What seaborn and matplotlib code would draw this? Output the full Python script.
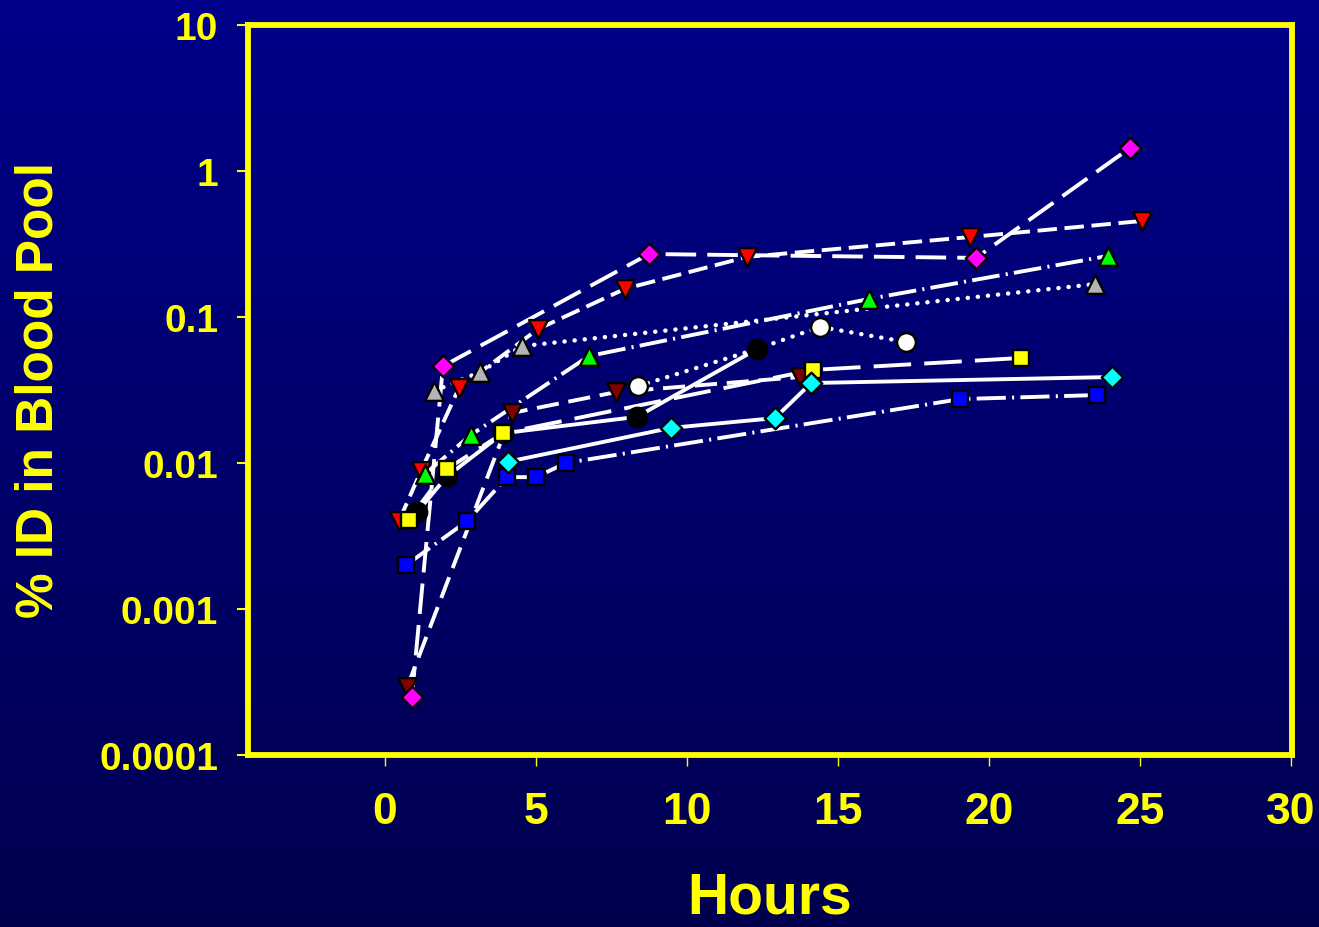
import numpy as np
import pandas as pd
import matplotlib
matplotlib.use("Agg")
import matplotlib.pyplot as plt
import seaborn as sns
from matplotlib.ticker import NullLocator

sns.set_theme(style="white")
plt.rcParams["font.family"] = ["Liberation Sans", "DejaVu Sans"]
plt.rcParams["lines.scale_dashes"] = False

# ---------------- data (hours, % ID in blood pool) ----------------
magenta_x = [0.89, 1.92, 8.74, 19.57, 24.67]
magenta_y = [0.00025, 0.046, 0.27, 0.254, 1.44]

red_x = [0.46, 1.19, 2.45, 5.07, 7.95, 11.99, 19.37, 25.07]
red_y = [0.0040, 0.0088, 0.0327, 0.0828, 0.156, 0.258, 0.353, 0.455]

maroon_x = [0.73, 4.2, 7.65, 13.74]
maroon_y = [0.00029, 0.022, 0.0306, 0.0388]

gray_x = [1.62, 3.15, 4.54, 23.51]
gray_y = [0.0311, 0.042, 0.0632, 0.168]

green_x = [1.32, 2.85, 6.75, 16.03, 23.94]
green_y = [0.0084, 0.0156, 0.054, 0.133, 0.262]

black_x = [1.06, 2.05, 3.91, 8.34, 12.32]
black_y = [0.0046, 0.0081, 0.016, 0.0207, 0.0604]

yellow_x = [0.79, 2.05, 3.91, 14.17, 21.06]
yellow_y = [0.0041, 0.0091, 0.016, 0.0434, 0.0524]

cyan_x = [4.07, 9.47, 12.91, 14.11, 24.07]
cyan_y = [0.0102, 0.0174, 0.0203, 0.0353, 0.0388]

blue_x = [0.70, 2.72, 4.04, 5.0, 5.99, 19.04, 23.58]
blue_y = [0.0020, 0.0040, 0.0080, 0.0080, 0.010, 0.0274, 0.0292]

white_x = [8.38, 12.32, 14.40, 17.25]
white_y = [0.0336, 0.0604, 0.0855, 0.0675]

y_ticks = [0.0001, 0.001, 0.01, 0.1, 1, 10]
y_tick_labels = ["0.0001", "0.001", "0.01", "0.1", "1", "10"]
x_ticks = [0, 5, 10, 15, 20, 25, 30]

# ---------------- series styles ----------------
series = [
    # x, y, marker, face, linestyle, capstyle, size, lw
    (red_x, red_y, "v", "#ff0000", (0, (14, 5.5)), "butt", 13.5, 2.8),
    (maroon_x, maroon_y, "v", "#800000", (0, (16, 7)), "butt", 13.5, 2.8),
    (magenta_x, magenta_y, "D", "#ff00ff", (0, (22, 8)), "butt", 11, 2.8),
    (gray_x, gray_y, "^", "#b4b4b4", (0, (0.1, 7.2)), "round", 13.5, 3.2),
    (green_x, green_y, "^", "#00ff00", (0, (20, 4.5, 1.5, 4.5)), "butt", 13.5, 2.8),
    (white_x, white_y, "o", "#ffffff", (0, (0.1, 7.2)), "round", 13.5, 3.2),
    (black_x, black_y, "o", "#000000", "-", "butt", 14, 2.8),
    (blue_x, blue_y, "s", "#0000ff", (0, (21, 4.5, 1.5, 4.5)), "butt", 12, 2.8),
    (yellow_x, yellow_y, "s", "#ffff00", (0, (27, 9.5)), "butt", 12, 2.8),
    (cyan_x, cyan_y, "D", "#00ffff", "-", "butt", 11, 2.8),
]

W, H = 1319, 928
fig = plt.figure(figsize=(W / 100, H / 100), dpi=100)

# gradient background
bg = fig.add_axes([0, 0, 1, 1], zorder=-5)
grad = np.linspace(0, 1, 256).reshape(-1, 1)
top = np.array([0.0, 0.0, 0.54])
bot = np.array([0.0, 0.0, 0.31])
img = top[None, None, :] * (1 - grad[:, :, None]) + bot[None, None, :] * grad[:, :, None]
bg.imshow(img, aspect="auto", extent=[0, 1, 0, 1])
bg.axis("off")

left, right, topp, bottom = 248, 1292, 26, 756
ax = fig.add_axes([left / W, 1 - bottom / H, (right - left) / W, (bottom - topp) / H])
ax.set_facecolor("none")

# lines
for xs, ys, mk, fc, ls, cap, ms, lw in series:
    df = pd.DataFrame({"x": xs, "y": ys})
    sns.lineplot(data=df, x="x", y="y", ax=ax, sort=False, estimator=None,
                 color="white", linewidth=lw, linestyle=ls,
                 dash_capstyle=cap, solid_capstyle="butt", zorder=2)

# markers
for xs, ys, mk, fc, ls, cap, ms, lw in series:
    df = pd.DataFrame({"x": xs, "y": ys})
    sns.scatterplot(data=df, x="x", y="y", ax=ax, marker=mk, s=ms ** 2,
                    color=fc, edgecolor="black", linewidth=1.7, zorder=3)

ax.set_yscale("log")
ax.set_ylim(1e-4, 10)
ax.set_xlim(-4.536, 30.03)
ax.set_yticks(y_ticks)
ax.set_yticklabels(y_tick_labels, fontsize=28, fontweight="bold", color="yellow")
ax.yaxis.set_minor_locator(NullLocator())
ax.set_xticks(x_ticks)
ax.set_xticklabels([str(v) for v in x_ticks], fontsize=32, fontweight="bold", color="yellow")
ax.tick_params(axis="y", which="major", left=True, direction="out", length=8,
               width=1.5, color="yellow", pad=13.5)
ax.tick_params(axis="x", which="major", bottom=True, direction="out", length=8,
               width=1, color="yellow", pad=18)
ax.set_xlabel("")
ax.set_ylabel("")
for sp in ax.spines.values():
    sp.set_visible(True)
    sp.set_color("yellow")
    sp.set_linewidth(4.2)
ax.grid(False)

fig.text(770 / W, 0.003, "Hours", ha="center", va="bottom",
         fontsize=41, fontweight="bold", color="yellow")
fig.text(39 / W, 1 - 390 / H, "% ID in Blood Pool", rotation=90, ha="center",
         va="center", fontsize=37, fontweight="bold", color="yellow")

fig.savefig("out.png", dpi=100)
